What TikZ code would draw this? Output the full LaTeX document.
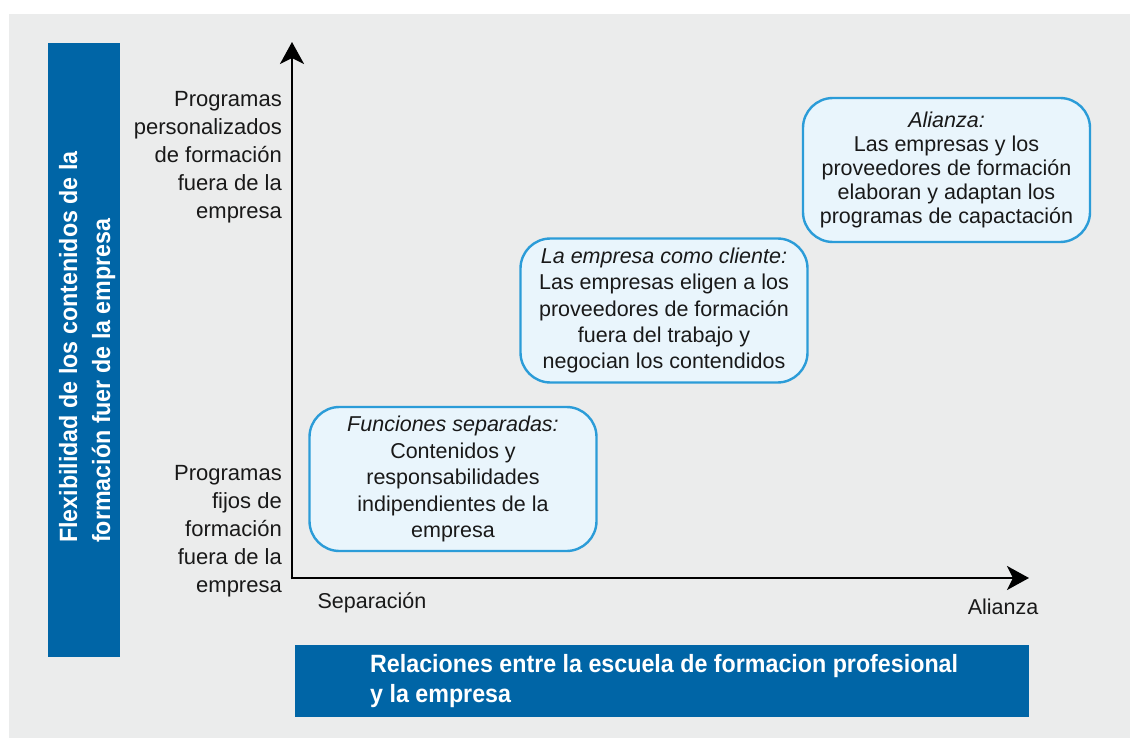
\documentclass[tikz,border=0pt]{standalone}
\usepackage{fontspec}
\setmainfont{Liberation Sans}
\newfontfamily\barfont[FakeStretch=0.93]{Liberation Sans}
\usetikzlibrary{arrows.meta}
\definecolor{panelgrey}{HTML}{EBECEC}
\definecolor{barblue}{HTML}{0065A6}
\definecolor{boxline}{HTML}{2B9CD8}
\definecolor{boxfill}{HTML}{E9F5FC}
\tikzset{
  bar/.style={fill=barblue, draw=none},
  bartext/.style={text=white, font=\barfont\bfseries\fontsize{25}{32}\selectfont, align=left, inner sep=0pt},
  axislabel/.style={font=\fontsize{22}{28}\selectfont, align=right, inner sep=0pt, text=black!90},
  ticklabel/.style={font=\fontsize{21.5}{26}\selectfont, inner sep=0pt, text=black!90},
  phasebox/.style={draw=boxline, fill=boxfill, line width=2.4pt, rounded corners=30pt,
    minimum width=287pt, minimum height=144pt, align=center, inner sep=0pt, text=black!90},
  axisline/.style={line width=2.6pt, -{Stealth[length=22pt, width=24pt, inset=6pt]}}
}
\begin{document}
\begin{tikzpicture}[x=1pt,y=-1pt]
\useasboundingbox (0,0) rectangle (1130,738);
\fill[white] (0,0) rectangle (1130,738);
\fill[panelgrey] (9,14) rectangle (1130,738);
% bars
\fill[bar] (48,43) rectangle (120,657);
\fill[bar] (295,645) rectangle (1029,717);
\node[bartext, rotate=90, anchor=base west] (ytitle) at (110,543)
  {Flexibilidad de los contenidos de la\\[1pt]formación fuer de la empresa};
\node[bartext, anchor=base west] (xtitle) at (370,702)
  {Relaciones entre la escuela de formacion profesional\\[-2pt]y la empresa};
% axes
\coordinate (o) at (292,578);
\coordinate (ytop) at (292,42);
\coordinate (xend) at (1029,578);
\draw[axisline] ([yshift=-1.3pt]o) -- (ytop);
\draw[axisline] ([xshift=-1.3pt]o) -- (xend);
% axis labels
\node[axislabel, anchor=east] (yhigh) at (282,157)
  {Programas\\personalizados\\de formación\\fuera de la\\empresa};
\node[axislabel, anchor=east] (ylow) at (282,531)
  {Programas\\fijos de\\formación\\fuera de la\\empresa};
\node[ticklabel] (xlow) at (372,603) {Separación};
\node[ticklabel] (xhigh) at (1003,607) {Alianza};
% boxes
\node[phasebox, font=\fontsize{21.5}{26.5}\selectfont] (sep) at (453,479)
  {\textit{Funciones separadas:}\\Contenidos y\\responsabilidades\\indipendientes de la\\empresa};
\node[phasebox, font=\fontsize{21.5}{26.3}\selectfont] (cli) at (664,310.5)
  {\textit{La empresa como cliente:}\\Las empresas eligen a los\\proveedores de formación\\fuera del trabajo y\\negocian los contendidos};
\node[phasebox, font=\fontsize{21.5}{24}\selectfont] (ali) at (946.5,170)
  {\textit{Alianza:}\\Las empresas y los\\proveedores de formación\\elaboran y adaptan los\\programas de capactación};
\end{tikzpicture}
\end{document}
